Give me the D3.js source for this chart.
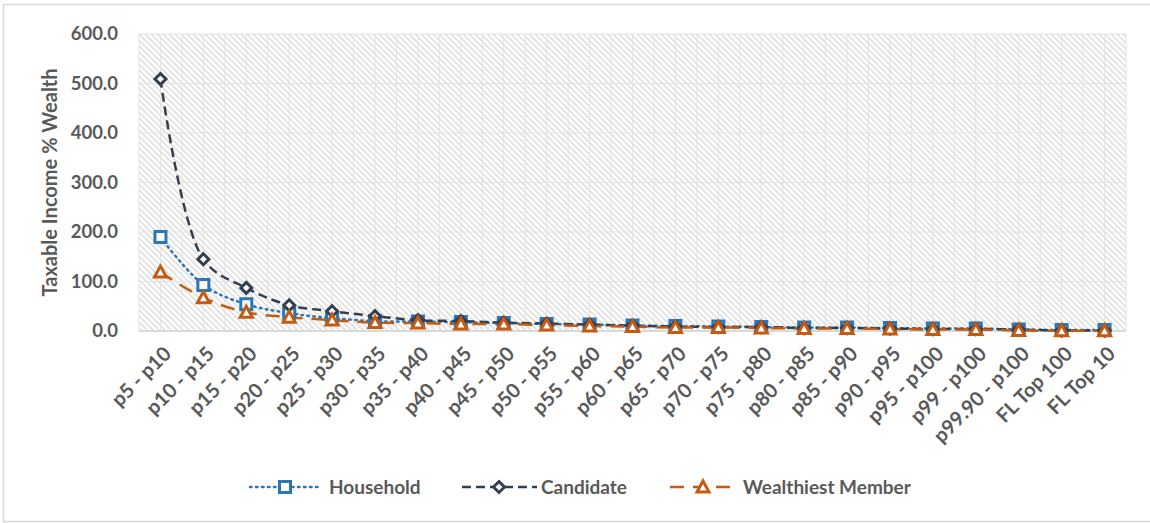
<!DOCTYPE html>
<html>
<head>
<meta charset="utf-8">
<script src="https://cdn.jsdelivr.net/npm/d3@7"></script>
<style>
  body { margin: 0; background: #fff; }
  text { font-family: Lato, "Open Sans", sans-serif; font-weight: bold; fill: #595959; }
</style>
</head>
<body>
<script>
var width = 1150, height = 523;

// categories and series
var groups = ["p5 - p10", "p10 - p15", "p15 - p20", "p20 - p25", "p25 - p30", "p30 - p35",
  "p35 - p40", "p40 - p45", "p45 - p50", "p50 - p55", "p55 - p60", "p60 - p65",
  "p65 - p70", "p70 - p75", "p75 - p80", "p80 - p85", "p85 - p90", "p90 - p95",
  "p95 - p100", "p99 - p100", "p99.90 - p100", "FL Top 100", "FL Top 10"];
var household = [190, 93, 54, 36, 26, 20, 19, 18, 16, 14, 13, 11, 10, 9, 8, 7, 7, 6, 5, 5, 3, 2, 2];
var candidate = [509, 145, 87, 52, 40, 30, 22, 20, 17, 15, 13, 11, 9, 8, 8, 6, 6, 5, 4, 4, 3, 1, 1];
var wealthiest = [119, 67, 38, 28, 22, 17, 16, 14, 14, 12, 10, 9, 7, 7, 6, 5, 5, 4, 3, 3, 1, 0.5, 0.5];
var yTicks = [0, 100, 200, 300, 400, 500, 600];

var series = [
  { name: "Household", values: household, color: "#2E75B6", dash: "1.5,4.5", cap: "round", marker: "square" },
  { name: "Candidate", values: candidate, color: "#333F50", dash: "9,5", cap: "butt", marker: "diamond" },
  { name: "Wealthiest Member", values: wealthiest, color: "#C55A11", dash: "14,9", cap: "butt", marker: "triangle" }
];

var margin = { left: 139, right: 24, top: 34, bottom: 192 };
var plotW = width - margin.left - margin.right,
    plotH = height - margin.top - margin.bottom;

var svg = d3.select("body").append("svg")
    .attr("width", width)
    .attr("height", height);

// outer chart border
svg.append("rect")
    .attr("x", 3.5).attr("y", 4.5)
    .attr("width", 1160).attr("height", 517)
    .attr("fill", "none")
    .attr("stroke", "#d9d9d9")
    .attr("stroke-width", 1.5);

// downward diagonal hatch
var defs = svg.append("defs");
var pat = defs.append("pattern")
    .attr("id", "hatch")
    .attr("width", 6).attr("height", 6)
    .attr("patternUnits", "userSpaceOnUse");
pat.append("rect").attr("width", 6).attr("height", 6).attr("fill", "#fff");
pat.append("path")
    .attr("d", "M-1,-1 L7,7 M-1,5 L1,7 M5,-1 L7,1")
    .attr("stroke", "#dcdcdc")
    .attr("stroke-width", 1.4);

var g = svg.append("g")
    .attr("transform", "translate(" + margin.left + "," + margin.top + ")");

var x = d3.scaleBand()
    .domain(groups)
    .range([0, plotW]);

var y = d3.scaleLinear()
    .domain([0, 600])
    .range([plotH, 0]);

g.append("rect")
    .attr("width", plotW).attr("height", plotH)
    .attr("fill", "url(#hatch)");

// vertical gridlines at category centres and edges
var vLines = [];
groups.forEach(function(d, i) {
  vLines.push(x(d));
  vLines.push(x(d) + x.bandwidth() / 2);
});
vLines.push(plotW);
g.append("g").selectAll("line")
  .data(vLines)
  .enter().append("line")
    .attr("x1", d => d).attr("x2", d => d)
    .attr("y1", 0).attr("y2", plotH)
    .attr("stroke", "#e3e3e3")
    .attr("stroke-width", 1);

// horizontal gridlines
g.append("g").selectAll("line")
  .data(yTicks)
  .enter().append("line")
    .attr("x1", 0).attr("x2", plotW)
    .attr("y1", d => y(d)).attr("y2", d => y(d))
    .attr("stroke", d => d === 0 ? "#d9d9d9" : "#e3e3e3")
    .attr("stroke-width", d => d === 0 ? 2 : 1);

// y axis
var yAxis = g.append("g")
    .call(d3.axisLeft(y).tickValues(yTicks).tickFormat(d3.format(".1f")).tickSize(0).tickPadding(21));
yAxis.select(".domain").remove();
yAxis.selectAll("text")
    .style("font-family", "Lato, sans-serif")
    .style("font-weight", "bold")
    .style("font-size", "18.5px")
    .attr("fill", "#595959");

svg.append("text")
    .attr("transform", "translate(57," + (margin.top + plotH / 2) + ") rotate(-90)")
    .attr("text-anchor", "middle")
    .style("font-size", "20px")
    .text("Taxable Income % Wealth");

// x axis labels
var xAxis = g.append("g")
    .attr("transform", "translate(0," + plotH + ")")
    .call(d3.axisBottom(x).tickSize(0));
xAxis.select(".domain").remove();
xAxis.selectAll("text")
    .style("font-family", "Lato, sans-serif")
    .style("font-weight", "bold")
    .style("font-size", "20px")
    .attr("fill", "#595959")
    .attr("text-anchor", "end")
    .attr("dy", null)
    .attr("y", 0)
    .attr("transform", "translate(12,24) rotate(-45)");

var line = d3.line()
    .x((d, i) => x(groups[i]) + x.bandwidth() / 2)
    .y(d => y(d))
    .curve(d3.curveCatmullRom.alpha(0.5));

function markerPath(type) {
  if (type === "square") return "M-5.5,-5.5 H5.5 V5.5 H-5.5 Z";
  if (type === "diamond") return "M0,-5.5 L5.5,0 L0,5.5 L-5.5,0 Z";
  return "M0,-6 L6,5 L-6,5 Z";
}

series.forEach(function(s) {
  g.append("path")
      .datum(s.values)
      .attr("fill", "none")
      .attr("stroke", s.color)
      .attr("stroke-width", 2.5)
      .attr("stroke-dasharray", s.dash)
      .attr("stroke-linecap", s.cap)
      .attr("d", line);
});

series.forEach(function(s) {
  g.append("g").selectAll("path")
    .data(s.values)
    .enter().append("path")
      .attr("transform", (d, i) => "translate(" + (x(groups[i]) + x.bandwidth() / 2) + "," + y(d) + ")")
      .attr("d", markerPath(s.marker))
      .attr("fill", "#fff")
      .attr("stroke", s.color)
      .attr("stroke-width", 3);
});

// legend
var legendItems = [
  { x0: 250, x1: 318, mx: 285, tx: 329 },
  { x0: 462, x1: 537, mx: 499, tx: 541 },
  { x0: 670, x1: 730, mx: 703, tx: 743 }
];
var ly = 487;
var legend = svg.append("g");
series.forEach(function(s, i) {
  var p = legendItems[i];
  legend.append("line")
      .attr("x1", p.x0).attr("x2", p.x1)
      .attr("y1", ly).attr("y2", ly)
      .attr("stroke", s.color)
      .attr("stroke-width", 2.5)
      .attr("stroke-dasharray", s.dash)
      .attr("stroke-linecap", s.cap);
  legend.append("path")
      .attr("transform", "translate(" + p.mx + "," + ly + ")")
      .attr("d", markerPath(s.marker))
      .attr("fill", "#fff")
      .attr("stroke", s.color)
      .attr("stroke-width", 3);
  legend.append("text")
      .attr("x", p.tx).attr("y", ly)
      .attr("dy", "0.35em")
      .style("font-size", "19px")
      .text(s.name);
});
</script>
</body>
</html>
